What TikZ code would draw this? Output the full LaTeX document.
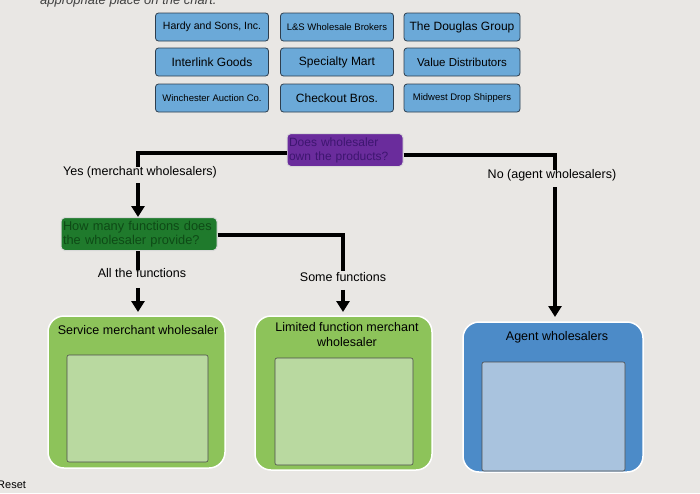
\documentclass[tikz,border=0pt]{standalone}
\usepackage{fontspec}
\setmainfont{Liberation Sans}
\usetikzlibrary{arrows.meta}
\definecolor{bg}{HTML}{E9E7E4}
\definecolor{topfill}{HTML}{6BA9D8}
\definecolor{topdraw}{HTML}{2E3E4E}
\definecolor{purp}{HTML}{6A2C9C}
\definecolor{purptext}{HTML}{3E1670}
\definecolor{dgreen}{HTML}{1F7A2C}
\definecolor{dgreentext}{HTML}{0E4A16}
\definecolor{lgreen}{HTML}{8DC35A}
\definecolor{lgreenin}{HTML}{B9D9A0}
\definecolor{ablue}{HTML}{4C8BC8}
\definecolor{abluein}{HTML}{A9C3DE}
\tikzset{
  card/.style={draw=topdraw, line width=0.8pt, fill=topfill, rounded corners=3pt, minimum width=113pt, minimum height=28pt, inner sep=1pt, text=black},
  question/.style={rounded corners=4pt, inner sep=2pt, align=left, draw=white!85!black, line width=1pt},
  flow/.style={line width=3.2pt, black},
  arr/.style={line width=3.5pt, black, -{Triangle[width=13pt,length=11pt]}},
  lbl/.style={font=\fontsize{12.5}{14}\selectfont, text=black, inner sep=1pt},
  bin/.style={rounded corners=16pt, draw=white, line width=1.5pt},
  inbox/.style={draw=black!70, line width=0.6pt, rounded corners=2pt},
  bintitle/.style={font=\fontsize{12.5}{15}\selectfont, align=center, inner sep=1pt},
}
\begin{document}
\begin{tikzpicture}[x=1pt,y=-1pt]
\useasboundingbox (0,0) rectangle (700,493);
\clip (0,0) rectangle (700,493);
\fill[bg] (0,0) rectangle (700,493);
% partial header text
\node[anchor=base west, font=\itshape\fontsize{13}{15}\selectfont, text=black!75, inner sep=0] (hdr) at (40,4) {appropriate place on the chart.};
% top cards
\node[card, font=\fontsize{10.5}{12}\selectfont] (c11) at (212,27) {Hardy and Sons, Inc.};
\node[card, font=\fontsize{9.5}{11}\selectfont] (c12) at (337,27) {L\&S Wholesale Brokers};
\node[card, minimum width=116pt, font=\fontsize{12}{14}\selectfont] (c13) at (462,27) {The Douglas Group};
\node[card, font=\fontsize{12}{14}\selectfont] (c21) at (212,62) {Interlink Goods};
\node[card, font=\fontsize{12}{14}\selectfont] (c22) at (337,62) {Specialty Mart};
\node[card, minimum width=116pt, font=\fontsize{11.5}{13}\selectfont] (c23) at (462,62) {Value Distributors};
\node[card, font=\fontsize{9.5}{11}\selectfont] (c31) at (212,98) {Winchester Auction Co.};
\node[card, font=\fontsize{12}{14}\selectfont] (c32) at (337,98) {Checkout Bros.};
\node[card, minimum width=116pt, font=\fontsize{9.5}{11}\selectfont] (c33) at (462,98) {Midwest Drop Shippers};
% question 1
\node[question, fill=purp, text=purptext, text width=112pt, minimum height=33pt, font=\fontsize{12}{14}\selectfont] (q1) at (345,150) {Does wholesaler\\own the products?};
% question 2
\node[question, fill=dgreen, text=dgreentext, text width=152pt, minimum height=33pt, font=\fontsize{12.8}{14.5}\selectfont] (q2) at (139,234) {How many functions does\\the wholesaler provide?};
% labels
\node[lbl] (yes) at (140,172) {Yes (merchant wholesalers)};
\node[lbl] (no) at (552,175) {No (agent wholesalers)};
\node[lbl] (all) at (142,273) {All the functions};
\node[lbl] (some) at (343,277) {Some functions};
\coordinate (cyl) at (138,153);
\coordinate (cyr) at (555,155);
\coordinate (cs) at (343,235);
% connectors
\draw[flow] (q1.west |- cyl) -- (cyl) -- ([yshift=-2pt]yes.north -| cyl);
\draw[arr] ([yshift=-4pt]yes.south -| cyl) -- (q2.north -| cyl);
\draw[flow] (q1.east |- cyr) -- (cyr) -- ([yshift=-2pt]no.north -| cyr);
\draw[flow] (q2.east |- cs) -- (cs) -- (some.north -| cs);
\draw[flow] (q2.south -| cyl) -- ([yshift=-3pt]all.north -| cyl);
% bins
\path[bin, fill=lgreen] (48,316) rectangle (225,468);
\path[bin, fill=lgreen] (255,316) rectangle (432,470);
\path[bin, fill=ablue] (463,322) rectangle (643,472);
\draw[inbox, fill=lgreenin] (67,355) rectangle (208,462);
\draw[inbox, fill=lgreenin] (275,358) rectangle (413,465);
\draw[inbox, fill=abluein] (482,362) rectangle (625,471);
\node[bintitle] (b1) at (138,330) {Service merchant wholesaler};
\node[bintitle] (b2) at (347,335) {Limited function merchant\\wholesaler};
\node[bintitle] (b3) at (557,337) {Agent wholesalers};
\coordinate (b1t) at (138,312);
\coordinate (b2t) at (343,312);
\coordinate (b3t) at (555,317);
\draw[arr] ([yshift=-9pt]all.south -| cyl) -- (b1t);
\draw[arr] ([yshift=-7pt]some.south -| cs) -- (b2t);
\draw[arr] ([yshift=-5pt]no.south -| cyr) -- (b3t);
\node[anchor=base west, font=\fontsize{11}{13}\selectfont, inner sep=0] (reset) at (-3,488) {Reset};
\end{tikzpicture}
\end{document}
